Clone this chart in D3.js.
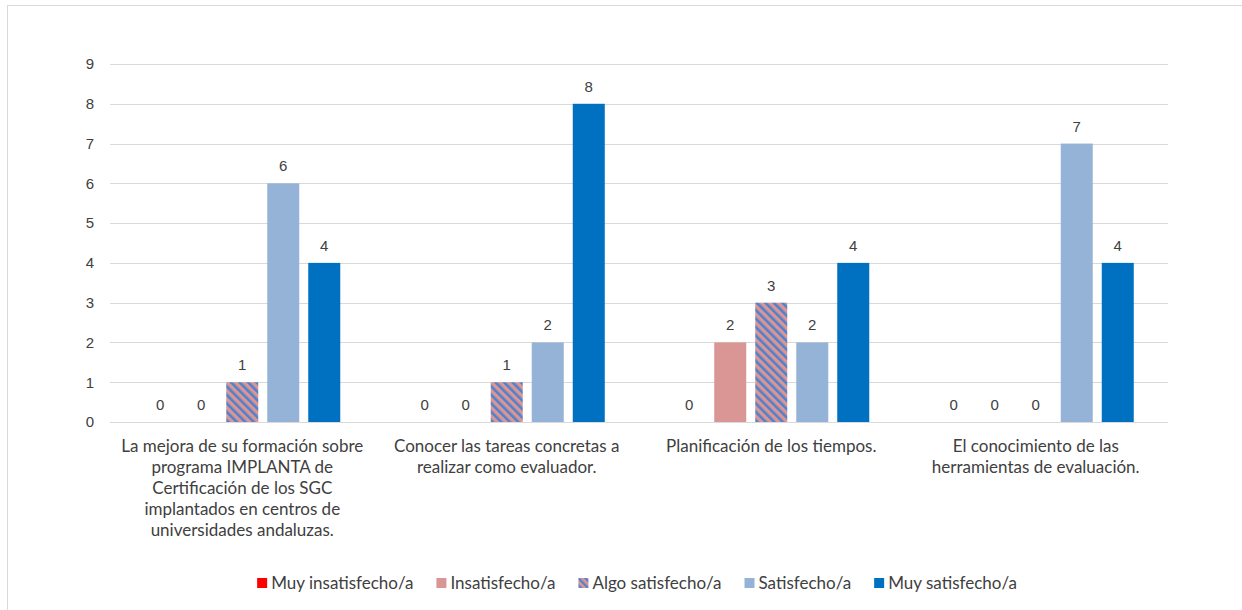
<!DOCTYPE html>
<html>
<head>
<meta charset="utf-8">
<script src="https://cdn.jsdelivr.net/npm/d3@7"></script>
<style>
  body { margin: 0; background: #fff; }
  svg { display: block; }
</style>
</head>
<body>
<svg width="1242" height="610"></svg>
<script>
// categories (x axis) and their wrapped labels
var categories = ["c1", "c2", "c3", "c4"];
var categoryLines = [
  ["La mejora de su formación sobre", "programa IMPLANTA de", "Certificación de los SGC", "implantados en centros de", "universidades andaluzas."],
  ["Conocer las tareas concretas a", "realizar como evaluador."],
  ["Planificación de los tiempos."],
  ["El conocimiento de las", "herramientas de evaluación."]
];
var series = ["Muy insatisfecho/a", "Insatisfecho/a", "Algo satisfecho/a", "Satisfecho/a", "Muy satisfecho/a"];
var muyInsatisfecho = [0, 0, 0, 0];
var insatisfecho    = [0, 0, 2, 0];
var algoSatisfecho  = [1, 1, 3, 0];
var satisfecho      = [6, 2, 2, 7];
var muySatisfecho   = [4, 8, 4, 4];
var yTicks = [0, 1, 2, 3, 4, 5, 6, 7, 8, 9];

var values = [muyInsatisfecho, insatisfecho, algoSatisfecho, satisfecho, muySatisfecho];
var colors = ["#FF0000", "#DA9694", "url(#hatch)", "#95B3D7", "#0070C0"];
var textFont = "Lato, sans-serif";
var numFont = "'Liberation Sans', Arial, sans-serif";

var svg = d3.select("svg");

// chart border
svg.append("rect")
  .attr("x", 7.5).attr("y", 5.5)
  .attr("width", 1260).attr("height", 620)
  .attr("fill", "none").attr("stroke", "#d9d9d9");

var defs = svg.append("defs");
function hatch(id, size, stripe) {
  var p = defs.append("pattern")
    .attr("id", id)
    .attr("patternUnits", "userSpaceOnUse")
    .attr("width", size).attr("height", size)
    .attr("patternTransform", "rotate(-45)");
  p.append("rect").attr("width", size).attr("height", size).attr("fill", "#DA9694");
  p.append("rect").attr("width", stripe).attr("height", size).attr("fill", "#4F81CC");
}
hatch("hatch", 6, 2.6);
hatch("hatchLegend", 5, 2.2);

var x = d3.scaleBand().domain(categories).range([110, 1168]);
var xs = d3.scaleBand().domain(d3.range(series.length))
  .range([0, x.bandwidth()]).paddingInner(9 / 41).paddingOuter(0.835);
var y = d3.scaleLinear().domain([0, 9]).range([422, 64]);

// gridlines
svg.append("g").selectAll("line")
  .data(yTicks)
  .enter().append("line")
  .attr("x1", 110).attr("x2", 1168)
  .attr("y1", function(d) { return Math.round(y(d)) + 0.5; })
  .attr("y2", function(d) { return Math.round(y(d)) + 0.5; })
  .attr("stroke", "#d9d9d9").attr("stroke-width", 1);

// y axis labels
var yAxis = svg.append("g")
  .attr("transform", "translate(100,0)")
  .call(d3.axisLeft(y).tickValues(yTicks).tickSize(0).tickPadding(6));
yAxis.select(".domain").remove();
yAxis.selectAll("text")
  .attr("font-family", numFont)
  .attr("font-size", 15).attr("fill", "#404040");

// bars + value labels
var groups = svg.append("g").selectAll("g")
  .data(categories)
  .enter().append("g")
  .attr("transform", function(d) { return "translate(" + x(d) + ",0)"; });

groups.each(function(c, ci) {
  var g = d3.select(this);
  var rows = series.map(function(s, si) { return { si: si, v: values[si][ci] }; });
  g.selectAll("rect")
    .data(rows)
    .enter().append("rect")
    .attr("x", function(d) { return xs(d.si); })
    .attr("width", xs.bandwidth())
    .attr("y", function(d) { return y(d.v); })
    .attr("height", function(d) { return y(0) - y(d.v); })
    .attr("fill", function(d) { return colors[d.si]; });

  g.selectAll("text")
    .data(rows)
    .enter().append("text")
    .attr("x", function(d) { return xs(d.si) + xs.bandwidth() / 2; })
    .attr("y", function(d) { return y(d.v) - 12; })
    .attr("text-anchor", "middle")
    .attr("font-family", numFont)
    .attr("font-size", 15).attr("fill", "#404040")
    .text(function(d) { return d.v; });
});

// category labels
svg.append("g").selectAll("text")
  .data(categories)
  .enter().append("text")
  .attr("text-anchor", "middle")
  .attr("font-family", textFont)
  .attr("font-size", 17).attr("fill", "#404040")
  .each(function(d, i) {
    var t = d3.select(this);
    categoryLines[i].forEach(function(line, li) {
      t.append("tspan")
        .attr("x", x(d) + x.bandwidth() / 2)
        .attr("y", 452 + li * 21)
        .text(line);
    });
  });

// legend
var legend = svg.append("g");
var items = legend.selectAll("g")
  .data(series)
  .enter().append("g");
items.append("rect")
  .attr("width", 10).attr("height", 10)
  .attr("y", 578)
  .attr("fill", function(d, i) { return colors[i] == "url(#hatch)" ? "url(#hatchLegend)" : colors[i]; });
items.append("text")
  .attr("x", 14).attr("y", 589)
  .attr("font-family", textFont)
  .attr("font-size", 17).attr("fill", "#404040")
  .text(function(d) { return d; });

var pos = 0, starts = [];
items.each(function() {
  starts.push(pos);
  pos += 14 + d3.select(this).select("text").node().getComputedTextLength() + 23;
});
var total = pos - 23;
var left = 637 - total / 2;
items.attr("transform", function(d, i) { return "translate(" + (left + starts[i]) + ",0)"; });
</script>
</body>
</html>
